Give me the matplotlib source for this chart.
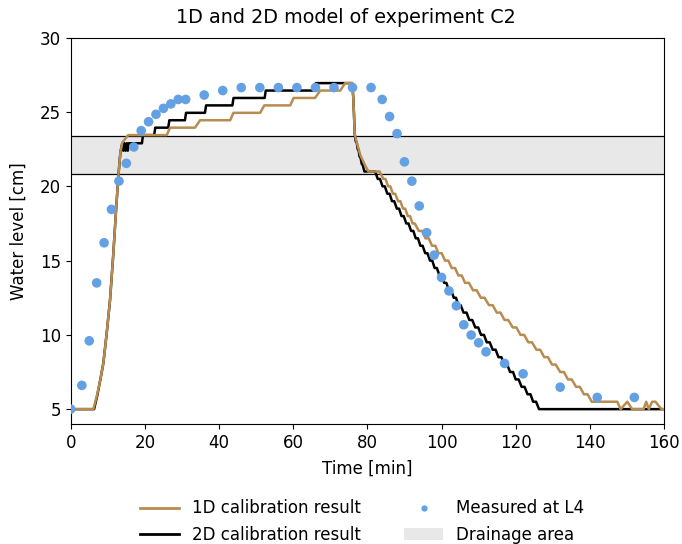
import matplotlib
matplotlib.use("Agg")
import matplotlib.pyplot as plt
from matplotlib.patches import Patch
from matplotlib.lines import Line2D

# ---------------- data ----------------
meas_t = [0, 3, 5, 7, 9, 11, 13, 15, 17, 19, 21, 23, 25, 27, 29, 31, 36, 41, 46, 51,
          56, 61, 66, 71, 76, 81, 84, 86, 88, 90, 92, 94, 96, 98, 100, 102, 104, 106,
          108, 110, 112, 117, 122, 132, 142, 152]
meas_h = [5.0, 6.6, 9.6, 13.5, 16.2, 18.45, 20.35, 21.55, 22.65, 23.75, 24.35, 24.85,
          25.25, 25.55, 25.85, 25.85, 26.15, 26.45, 26.65, 26.65, 26.65, 26.65, 26.65,
          26.65, 26.65, 26.65, 25.85, 24.7, 23.55, 21.65, 20.35, 18.68, 16.88, 15.37,
          13.87, 12.96, 11.96, 10.68, 9.99, 9.47, 8.86, 8.08, 7.38, 6.48, 5.79, 5.79]

# 1D calibration result (vertices)
t_1d = [0, 6.1, 7.0, 8.0, 8.8, 9.7, 10.6, 11.5, 12.2, 12.85, 13.4, 13.9, 15.5,
        25.9, 26.8, 33.5, 34.9, 43.0, 43.9, 51.1, 52.2, 59.2, 60.1, 65.9, 67.3, 72.7, 74.0,
        75.9, 76.2, 76.4, 76.6, 77.2, 78.1, 79.4, 80.3, 83.3,
        84.3, 84.9, 85.6, 86.2, 86.9, 87.5, 88.3, 88.9, 89.6, 90.2, 90.9, 91.5, 92.2, 92.8,
        93.85, 94.75, 95.65, 96.55, 97.45, 98.35, 99.15, 100.05, 100.95, 101.85,
        102.75, 103.65, 104.55, 105.45, 106.35, 107.4, 108.5, 109.5, 110.6, 111.6,
        112.8, 113.8, 114.9, 115.9, 117.0, 118.0, 119.2, 120.2, 121.3, 122.3,
        123.4, 124.4, 125.6, 126.6, 127.7, 128.7, 129.8, 130.8, 132.0, 133.0,
        134.1, 135.1, 136.3, 137.3, 138.4, 139.4, 140.5, 147.4,
        148.3, 150.1, 151.4, 154.5, 155.2, 155.9, 156.8, 157.7, 159.3, 160.0]
h_1d = [5.0, 5.0, 5.85, 7.0, 8.1, 10.1, 12.35, 15.5, 18.3, 20.7, 22.3, 22.95, 23.45,
        23.45, 23.95, 23.95, 24.45, 24.45, 24.95, 24.95, 25.45, 25.45, 25.95, 25.95, 26.45, 26.45, 26.95,
        26.95, 26.0, 24.8, 23.5, 22.9, 22.1, 21.4, 21.0, 21.0,
        20.5, 20.5, 20.0, 20.0, 19.5, 19.5, 19.0, 19.0, 18.5, 18.5, 18.0, 18.0, 17.5, 17.5,
        17.0, 17.0, 16.5, 16.5, 16.0, 16.0, 15.5, 15.5, 15.0, 15.0,
        14.5, 14.5, 14.0, 14.0, 13.5, 13.5, 13.0, 13.0, 12.5, 12.5,
        12.0, 12.0, 11.5, 11.5, 11.0, 11.0, 10.5, 10.5, 10.0, 10.0,
        9.5, 9.5, 9.0, 9.0, 8.5, 8.5, 8.0, 8.0, 7.5, 7.5,
        7.0, 7.0, 6.5, 6.5, 6.0, 6.0, 5.5, 5.5,
        5.0, 5.5, 5.0, 5.0, 5.5, 5.0, 5.5, 5.5, 5.0, 5.0]

# 2D calibration result
t_2d = [0, 6.3, 7.1, 8.0, 8.8, 9.7, 10.6, 11.5, 12.2, 12.85, 13.4, 13.9,
        14.2, 14.5, 14.8, 15.1, 15.4, 15.6, 19.2, 19.5, 22.5, 22.8, 26.3, 26.6, 30.8, 31.1,
        36.2, 36.5, 43.6, 43.9, 52.3, 52.6, 65.8, 66.1, 75.9,
        76.2, 76.4, 76.6, 76.9, 77.1, 77.4, 77.6, 77.9, 78.1, 78.5, 78.7, 79.2, 82.1,
        82.8, 83.4, 84.1, 84.7, 85.4, 86.0, 86.65, 87.25, 87.95, 88.55, 89.2, 89.8,
        90.5, 91.1, 91.8, 92.4, 93.05, 93.65, 94.3, 94.9, 95.6, 96.2, 96.9, 97.5,
        98.15, 98.75, 99.45, 100.05, 100.7, 101.3, 102.0, 102.6, 103.3, 103.9,
        104.55, 105.15, 105.95, 106.75, 107.5, 108.3, 109.1, 109.9, 110.65, 111.45,
        112.2, 113.0, 113.8, 114.6, 115.35, 116.15, 116.9, 117.7, 118.5, 119.3,
        120.0, 120.8, 121.6, 122.4, 123.2, 124.0, 124.7, 125.5, 126.3, 160.0]
h_2d = [5.0, 5.0, 5.85, 7.0, 8.1, 10.1, 12.35, 15.5, 18.3, 20.7, 22.3, 22.9,
        22.4, 22.9, 22.4, 22.9, 22.4, 22.9, 22.9, 23.45, 23.45, 23.95, 23.95, 24.45, 24.45, 24.95,
        24.95, 25.45, 25.45, 25.95, 25.95, 26.45, 26.45, 26.95, 26.95,
        26.0, 24.8, 23.5, 23.0, 23.0, 22.5, 22.5, 22.0, 22.0, 21.5, 21.5, 21.0, 21.0,
        20.5, 20.5, 20.0, 20.0, 19.5, 19.5, 19.0, 19.0, 18.5, 18.5, 18.0, 18.0,
        17.5, 17.5, 17.0, 17.0, 16.5, 16.5, 16.0, 16.0, 15.5, 15.5, 15.0, 15.0,
        14.5, 14.5, 14.0, 14.0, 13.5, 13.5, 13.0, 13.0, 12.5, 12.5,
        12.0, 12.0, 11.5, 11.5, 11.0, 11.0, 10.5, 10.5, 10.0, 10.0,
        9.5, 9.5, 9.0, 9.0, 8.5, 8.5, 8.0, 8.0, 7.5, 7.5,
        7.0, 7.0, 6.5, 6.5, 6.0, 6.0, 5.5, 5.5, 5.0, 5.0]

drain_low, drain_high = 20.85, 23.4

labels = ["1D calibration result", "2D calibration result", "Measured at L4", "Drainage area"]
title = "1D and 2D model of experiment C2"

# ---------------- plot ----------------
plt.rcParams["font.family"] = ["DejaVu Sans"]
plt.rcParams["font.size"] = 12

c_1d = "#b88c50"
c_2d = "black"
c_meas = "#64a0e4"
c_drain = "#e8e8e8"

fig = plt.figure(figsize=(6.82, 5.44), dpi=100)
ax = fig.add_axes([0.1037, 0.2206, 0.8699, 0.7099])

ax.axhspan(drain_low, drain_high, facecolor=c_drain, edgecolor="none", zorder=0)
ax.axhline(drain_low, color="black", lw=0.9, zorder=1)
ax.axhline(drain_high, color="black", lw=0.9, zorder=1)

ax.plot(t_2d, h_2d, color=c_2d, lw=1.8, zorder=2)
ax.plot(t_1d, h_1d, color=c_1d, lw=1.8, zorder=3)
ax.scatter(meas_t, meas_h, s=48, color=c_meas, edgecolors="none", zorder=4)

ax.set_xlim(0, 160)
ax.set_ylim(4, 30)
ax.set_xticks([0, 20, 40, 60, 80, 100, 120, 140, 160])
ax.set_yticks([5, 10, 15, 20, 25, 30])
ax.set_xlabel("Time [min]", labelpad=6)
ax.set_ylabel("Water level [cm]", labelpad=9)
fig.text(0.507, 0.968, title, ha="center", va="center", fontsize=13.8)

handles = [
    Line2D([], [], color=c_1d, lw=2),
    Line2D([], [], color=c_2d, lw=2),
    Line2D([], [], marker="o", linestyle="none", markersize=4.5, color=c_meas, markeredgecolor="none"),
    Patch(facecolor=c_drain, edgecolor="none"),
]
fig.legend(handles, labels, loc="lower center", bbox_to_anchor=(0.531, -0.027), ncol=2,
           frameon=False, columnspacing=2.6, handlelength=2.35, handletextpad=0.78,
           labelspacing=0.5)

fig.savefig("out.png", dpi=100)
